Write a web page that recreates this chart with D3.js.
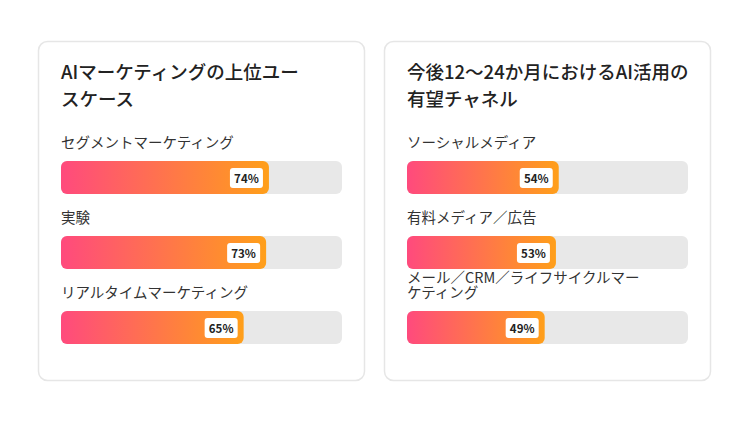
<!DOCTYPE html>
<html><head><meta charset="utf-8">
<script src="https://cdn.jsdelivr.net/npm/d3@7"></script>
<style>body{margin:0;background:#fff;font-family:"Noto Sans CJK JP","Noto Sans",sans-serif}</style>
</head><body><div id="chart"></div>
<script>
const leftTitle = ["AIマーケティングの上位ユー", "スケース"];
const leftCats = [["セグメントマーケティング"], ["実験"], ["リアルタイムマーケティング"]];
const leftVals = [74, 73, 65];
const rightTitle = ["今後12〜24か月におけるAI活用の", "有望チャネル"];
const rightCats = [["ソーシャルメディア"], ["有料メディア／広告"], ["メール／CRM／ライフサイクルマー", "ケティング"]];
const rightVals = [54, 53, 49];

const svg = d3.select("#chart").append("svg").attr("width", 750).attr("height", 422);
const defs = svg.append("defs");
const grad = defs.append("linearGradient").attr("id", "g");
grad.append("stop").attr("offset", "0%").attr("stop-color", "#ff4a7d");
grad.append("stop").attr("offset", "100%").attr("stop-color", "#ff9f1a");

function card(x0, title, cats, vals) {
  const g = svg.append("g").attr("transform", `translate(${x0},41)`);
  g.append("rect").attr("x", 0.5).attr("y", 0.5).attr("width", 326).attr("height", 339)
    .attr("rx", 9).attr("fill", "#fff").attr("stroke", "#e6e6e6").attr("stroke-width", 1.5);
  g.selectAll(".t").data(title).enter().append("text")
    .attr("x", 23).attr("y", (d, i) => 38 + i * 27).attr("font-size", 18.5)
    .attr("font-weight", 500).attr("fill", "#222").text(d => d);
  const x = d3.scaleLinear().domain([0, 100]).range([0, 281]);
  const y = d3.scaleBand().domain(d3.range(vals.length)).range([120, 345]);
  vals.forEach((v, i) => {
    const by = y(i);
    const lines = cats[i];
    lines.forEach((l, j) => {
      g.append("text").attr("x", 23).attr("y", by - 13 - (lines.length - 1 - j) * 15)
        .attr("font-size", 14.5).attr("fill", "#333").text(l);
    });
    g.append("rect").attr("x", 23).attr("y", by).attr("width", x(100)).attr("height", 33)
      .attr("rx", 6).attr("fill", "#e8e8e8");
    g.append("rect").attr("x", 23).attr("y", by).attr("width", x(v)).attr("height", 33)
      .attr("rx", 6).attr("fill", "url(#g)");
    const ex = 23 + x(v);
    g.append("rect").attr("x", ex - 39).attr("y", by + 7).attr("width", 33).attr("height", 20)
      .attr("rx", 3).attr("fill", "#fff");
    g.append("text").attr("x", ex - 22.5).attr("y", by + 21.5).attr("text-anchor", "middle")
      .attr("font-size", 11.5).attr("font-weight", 700).attr("fill", "#222").text(v + "%");
  });
}
card(38, leftTitle, leftCats, leftVals);
card(384, rightTitle, rightCats, rightVals);
</script></body></html>
